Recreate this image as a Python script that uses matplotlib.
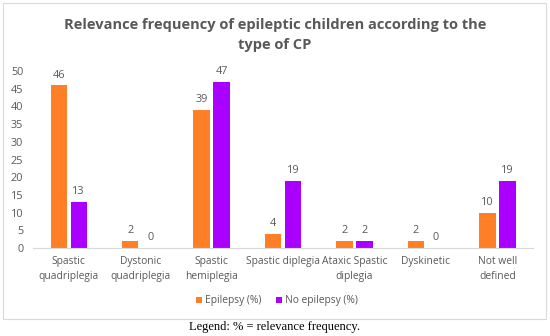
import numpy as np
import matplotlib.pyplot as plt
from matplotlib.patches import Rectangle

categories = ["Spastic\nquadriplegia", "Dystonic\nquadriplegia", "Spastic\nhemiplegia",
              "Spastic diplegia", "Ataxic Spastic\ndiplegia", "Dyskinetic", "Not well\ndefined"]
epilepsy = [46, 2, 39, 4, 2, 2, 10]
no_epilepsy = [13, 0, 47, 19, 2, 0, 19]
yticks = [0, 5, 10, 15, 20, 25, 30, 35, 40, 45, 50]

W, H = 550, 336
gray = "#595959"
orange = "#FF7F27"
purple = "#AA00FF"
plt.rcParams['font.family'] = ['Open Sans', 'DejaVu Sans']

fig = plt.figure(figsize=(W / 100, H / 100), dpi=100)

# outer chart border
fig.patches.append(Rectangle((3 / W, 1 - 319 / H), 543 / W, 316 / H, transform=fig.transFigure,
                             fill=False, edgecolor="#d9d9d9", lw=0.8))

ax = fig.add_axes([33 / W, 88 / H, 500 / W, 177 / H])
x = np.arange(len(categories))
bw = 0.23
b1 = ax.bar(x - 0.14, epilepsy, bw, color=orange, label="Epilepsy (%)")
b2 = ax.bar(x + 0.14, no_epilepsy, bw, color=purple, label="No epilepsy (%)")
for bars in (b1, b2):
    for r in bars:
        ax.text(r.get_x() + r.get_width() / 2, r.get_height() + 1.3, str(int(r.get_height())),
                ha="center", va="bottom", fontsize=7.8, color=gray, clip_on=False)

ax.set_xlim(-0.5, len(categories) - 0.5)
ax.set_ylim(0, 50)
ax.set_yticks(yticks)
ax.set_xticks(x)
ax.set_xticklabels(categories, fontsize=7.4, color=gray, linespacing=1.45)
ax.tick_params(axis="y", labelsize=7.8, labelcolor=gray, length=0, pad=7)
ax.tick_params(axis="x", length=0, pad=6)
for s in ["top", "right", "left"]:
    ax.spines[s].set_visible(False)
ax.spines["bottom"].set_color("#d9d9d9")

fig.text(275 / W, 1 - 35 / H, "Relevance frequency of epileptic children according to the\ntype of CP",
         ha="center", va="center", fontsize=10.5, fontweight="bold", color=gray, linespacing=1.55)

fig.legend(handles=[b1, b2], loc="center", bbox_to_anchor=(277 / W, 1 - 301 / H), ncol=2,
           frameon=False, fontsize=7.4, labelcolor=gray, handlelength=0.6, handleheight=0.6,
           handletextpad=0.3, columnspacing=1.4)

fig.text(275 / W, 1 - 327 / H, "Legend: % = relevance frequency.", ha="center", va="center",
         fontsize=9, family=["Liberation Serif", "DejaVu Serif"], color="black")

fig.savefig("out.png", dpi=100)
